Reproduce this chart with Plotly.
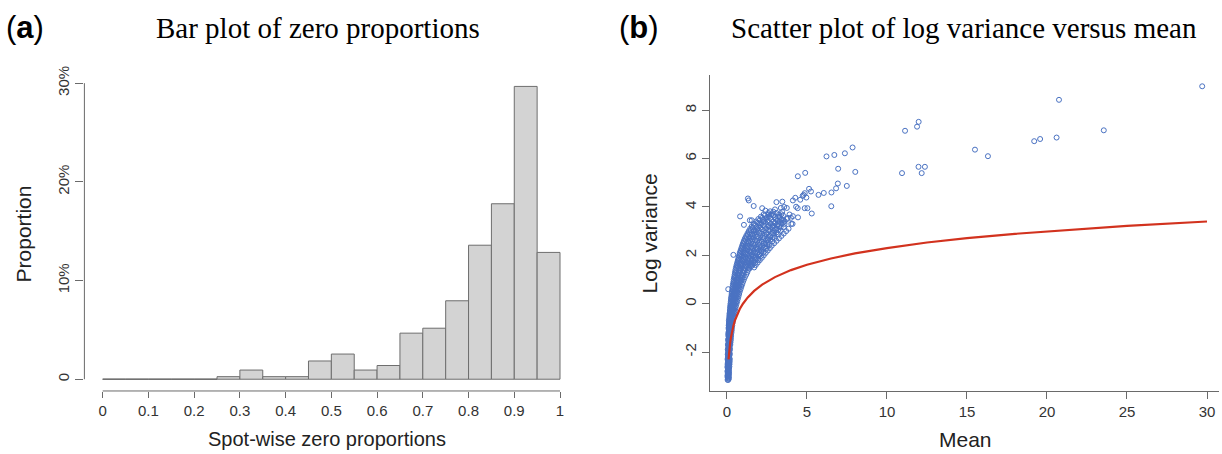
import plotly.graph_objects as go

# ---------------- data: panel (a) ----------------
bin_edges = [0.00, 0.05, 0.10, 0.15, 0.20, 0.25, 0.30, 0.35, 0.40, 0.45, 0.50,
             0.55, 0.60, 0.65, 0.70, 0.75, 0.80, 0.85, 0.90, 0.95, 1.00]
bar_pct = [0, 0, 0, 0, 0, 0.26, 0.93, 0.26, 0.26, 1.85, 2.55, 0.93, 1.39,
           4.67, 5.17, 7.95, 13.58, 17.78, 29.67, 12.85]
a_xticks = [0, 0.1, 0.2, 0.3, 0.4, 0.5, 0.6, 0.7, 0.8, 0.9, 1]
a_xticklabels = ["0", "0.1", "0.2", "0.3", "0.4", "0.5", "0.6", "0.7", "0.8", "0.9", "1"]
a_yticks = [0, 10, 20, 30]
a_yticklabels = ["0", "10%", "20%", "30%"]

# ---------------- data: panel (b) ----------------
# dense cloud, read row by row (log variance level -> means seen at that level)
band_logvar = [-3.15, -3.05, -2.95, -2.85, -2.75, -2.65, -2.55, -2.45, -2.35, -2.25,
               -2.15, -2.05, -1.95, -1.85, -1.75, -1.65, -1.55, -1.45, -1.35, -1.25,
               -1.15, -1.05, -0.95, -0.85, -0.75, -0.65, -0.55, -0.45, -0.35, -0.25,
               -0.15, -0.05, 0.05, 0.15, 0.25, 0.35, 0.45, 0.55, 0.65, 0.75,
               0.85, 0.95, 1.05, 1.15, 1.25, 1.35, 1.45, 1.55, 1.65, 1.75,
               1.85, 1.95, 2.05, 2.15, 2.25, 2.35, 2.45, 2.55, 2.65, 2.75,
               2.85, 2.95, 3.05, 3.15, 3.25, 3.35, 3.45, 3.55, 3.65, 3.75]
band_means = [
    [0.04, 0.08], [0.05, 0.10], [0.04, 0.09], [0.06, 0.11], [0.05, 0.10],
    [0.04, 0.09, 0.13], [0.06, 0.11], [0.05, 0.10, 0.14], [0.06, 0.12], [0.05, 0.10, 0.15],
    [0.07, 0.12], [0.06, 0.11, 0.16], [0.08, 0.13], [0.07, 0.12, 0.17], [0.09, 0.14],
    [0.08, 0.13, 0.19], [0.10, 0.16], [0.09, 0.14, 0.20], [0.11, 0.17, 0.22], [0.10, 0.15, 0.21],
    [0.12, 0.18, 0.24], [0.11, 0.17, 0.23], [0.13, 0.19, 0.26], [0.12, 0.20, 0.28], [0.14, 0.22, 0.30],
    [0.15, 0.24, 0.32], [0.17, 0.26, 0.35], [0.18, 0.28, 0.38], [0.20, 0.30, 0.41], [0.21, 0.32, 0.44],
    [0.23, 0.35, 0.47], [0.25, 0.37, 0.50], [0.26, 0.40, 0.53], [0.28, 0.42, 0.56], [0.30, 0.45, 0.60],
    [0.32, 0.48, 0.63], [0.34, 0.50, 0.67], [0.36, 0.53, 0.71], [0.38, 0.56, 0.75], [0.41, 0.60, 0.80],
    [0.43, 0.63, 0.84], [0.46, 0.66, 0.89], [0.48, 0.70, 0.94], [0.51, 0.74, 0.99], [0.54, 0.78, 1.04],
    [0.57, 0.82, 1.10], [0.60, 0.86, 1.16, 1.40], [0.63, 0.90, 1.20, 1.50], [0.66, 0.95, 1.28, 1.62],
    [0.70, 1.00, 1.34, 1.70],
    [0.74, 1.05, 1.42, 1.85], [0.78, 1.12, 1.50, 1.95], [0.82, 1.18, 1.58, 2.05], [0.87, 1.24, 1.66, 2.15],
    [0.92, 1.30, 1.75, 2.25], [0.97, 1.36, 1.84, 2.40], [1.02, 1.43, 1.93, 2.50], [1.08, 1.50, 2.02, 2.60],
    [1.15, 1.58, 2.12, 2.70], [1.22, 1.66, 2.22, 2.85],
    [1.30, 1.75, 2.33, 2.95], [1.40, 1.85, 2.45, 3.10], [1.50, 1.97, 2.57, 3.20], [1.62, 2.10, 2.70, 3.35],
    [1.75, 2.25, 2.85], [1.90, 2.40, 3.00, 3.50], [2.05, 2.55, 3.15], [2.20, 2.72, 3.30],
    [2.38, 2.90, 3.50], [2.58, 3.10],
]
band2_logvar = [-3.10, -3.00, -2.90, -2.80, -2.70, -2.60, -2.50, -2.40, -2.30, -2.20,
                -2.10, -2.00, -1.90, -1.80, -1.70, -1.60, -1.50, -1.40, -1.30, -1.20,
                -1.10, -1.00, -0.90, -0.80, -0.70, -0.60, -0.50, -0.40, -0.30, -0.20,
                -0.10, 0.00, 0.10, 0.20, 0.30, 0.40, 0.50, 0.60, 0.70, 0.80,
                0.90, 1.00, 1.10, 1.20, 1.30, 1.40, 1.50, 1.60, 1.70, 1.80,
                1.90, 2.00, 2.10, 2.20, 2.30, 2.40, 2.50, 2.60, 2.70, 2.80,
                2.90, 3.00, 3.10, 3.20, 3.30, 3.40, 3.50, 3.60, 3.70]
band2_means = [
    [0.06, 0.12], [0.03, 0.07, 0.12], [0.05, 0.13], [0.03, 0.08, 0.13], [0.07, 0.12],
    [0.03, 0.08, 0.15], [0.04, 0.12, 0.16], [0.08, 0.17], [0.04, 0.09, 0.18], [0.07, 0.14],
    [0.05, 0.09, 0.18], [0.10, 0.15], [0.05, 0.10, 0.19], [0.11, 0.16], [0.06, 0.11, 0.21],
    [0.12, 0.17, 0.22], [0.07, 0.12, 0.24], [0.13, 0.19, 0.25], [0.08, 0.14, 0.26], [0.09, 0.15, 0.20, 0.28],
    [0.14, 0.21, 0.30], [0.10, 0.16, 0.22, 0.31], [0.11, 0.17, 0.24, 0.33], [0.13, 0.18, 0.26, 0.35],
    [0.12, 0.19, 0.27, 0.37], [0.14, 0.21, 0.29, 0.40], [0.15, 0.23, 0.31, 0.43], [0.16, 0.24, 0.34, 0.46],
    [0.18, 0.26, 0.37, 0.49], [0.19, 0.28, 0.40, 0.52], [0.20, 0.30, 0.43, 0.56], [0.22, 0.33, 0.46, 0.60],
    [0.24, 0.35, 0.49, 0.64], [0.25, 0.38, 0.52, 0.68], [0.27, 0.40, 0.55, 0.72], [0.29, 0.43, 0.59, 0.76],
    [0.31, 0.46, 0.62, 0.80], [0.33, 0.48, 0.66, 0.85], [0.35, 0.51, 0.70, 0.90], [0.37, 0.55, 0.74, 0.95],
    [0.40, 0.58, 0.78, 1.00], [0.42, 0.61, 0.82, 1.06], [0.45, 0.65, 0.87, 1.12], [0.48, 0.69, 0.92, 1.20],
    [0.50, 0.72, 0.97, 1.27], [0.53, 0.76, 1.02, 1.32], [0.56, 0.80, 1.08, 1.36, 1.70],
    [0.60, 0.85, 1.14, 1.45, 1.80], [0.64, 0.90, 1.20, 1.52, 1.92], [0.68, 0.95, 1.26, 1.62, 2.05],
    [0.72, 1.00, 1.33, 1.72, 2.18], [0.76, 1.06, 1.40, 1.80, 2.30], [0.80, 1.12, 1.48, 1.90, 2.42],
    [0.85, 1.18, 1.56, 2.00, 2.55], [0.90, 1.24, 1.64, 2.10, 2.68], [0.95, 1.30, 1.72, 2.20, 2.80],
    [1.00, 1.36, 1.80, 2.32, 2.95], [1.06, 1.44, 1.90, 2.44, 3.10], [1.12, 1.52, 2.00, 2.56, 3.25],
    [1.20, 1.60, 2.10, 2.68, 3.40], [1.28, 1.70, 2.20, 2.80, 3.55], [1.36, 1.80, 2.32, 2.95, 3.70],
    [1.45, 1.90, 2.45, 3.10, 3.85], [1.55, 2.02, 2.60, 3.25], [1.68, 2.15, 2.75, 3.42, 4.10],
    [1.82, 2.30, 2.90, 3.60], [1.96, 2.45, 3.05, 3.75], [2.12, 2.62, 3.20], [2.30, 2.80, 3.40],
]
band3_logvar = [1.53, 1.58, 1.68, 1.73, 1.82, 1.88, 1.97, 2.03, 2.12, 2.18,
                2.27, 2.33, 2.42, 2.48, 2.57, 2.63, 2.72, 2.78, 2.87, 2.93,
                3.02, 3.08, 3.17, 3.23, 3.32, 3.38, 3.47, 3.58, 3.68, 3.80]
band3_means = [
    [0.71, 1.27], [0.98, 1.58], [0.77, 1.41, 1.75], [1.09], [0.85, 1.52, 1.95],
    [1.16, 1.78], [0.93, 1.62, 2.12], [1.28, 2.00], [1.02, 1.75, 2.28], [1.40, 2.12],
    [1.10, 1.88, 2.45], [1.52, 2.30], [1.18, 2.02, 2.62], [1.62, 2.40], [1.30, 2.18, 2.82],
    [1.75, 2.55], [1.41, 2.32, 3.00], [1.88, 2.70], [1.55, 2.48, 3.20], [2.02, 2.88],
    [1.68, 2.65, 3.35], [2.18, 3.02], [1.85, 2.82, 3.55], [2.35, 3.15], [2.00, 2.98],
    [2.55, 3.30], [2.25, 3.40], [2.50, 3.00], [2.75, 3.25], [2.90, 3.45],
]
outlier_mean = [29.7, 20.75, 11.98, 11.88, 11.13, 23.55, 20.6, 19.57, 19.2, 15.5,
                16.31, 7.85, 7.37, 6.71, 6.22, 6.95, 8.02, 10.94, 11.97, 12.37,
                12.17, 4.89, 4.43, 6.93, 7.49, 6.82, 6.53, 6.05, 5.72, 6.52,
                5.13, 4.86, 4.73, 4.27, 3.46, 3.09, 3.58, 4.12, 4.32, 4.42,
                4.86, 5.03, 5.3, 4.44, 4.02, 1.31, 1.36, 1.67, 0.82, 1.06,
                1.43, 1.55, 0.4, 0.08, 3.74, 3.37, 3.91, 4.12, 2.7, 2.62,
                4.58, 4.96, 4.79, 5.25, 3.2, 3.5, 3.8, 2.9, 3.3, 2.4,
                2.2, 3.0, 3.6, 4.0]
outlier_logvar = [8.99, 8.43, 7.52, 7.32, 7.15, 7.17, 6.87, 6.81, 6.72, 6.37,
                  6.1, 6.46, 6.22, 6.15, 6.09, 5.58, 5.45, 5.4, 5.66, 5.66,
                  5.4, 5.41, 5.27, 4.97, 4.87, 4.77, 4.6, 4.58, 4.5, 4.03,
                  4.75, 4.57, 4.46, 4.38, 4.22, 4.2, 4.0, 4.27, 4.01, 3.95,
                  3.95, 3.95, 3.73, 3.57, 3.3, 4.35, 4.27, 4.04, 3.61, 3.26,
                  3.45, 3.45, 2.02, 0.6, 3.96, 3.96, 3.69, 3.62, 3.82, 3.69,
                  4.3, 4.39, 4.5, 4.64, 3.3, 3.45, 3.55, 3.2, 3.6, 3.85,
                  3.95, 3.9, 3.3, 3.55]
ref_mean = [0.1, 0.12, 0.15, 0.2, 0.25, 0.3, 0.4, 0.5, 0.6, 0.8, 1.0, 1.3, 1.7, 2.2,
            3.0, 4.0, 5.0, 6.5, 8.0, 10.0, 12.5, 15.0, 18.0, 21.0, 25.0, 30.0]
ref_logvar = [-2.3, -2.12, -1.9, -1.61, -1.39, -1.2, -0.92, -0.69, -0.51, -0.22, 0.0, 0.26,
              0.53, 0.79, 1.1, 1.39, 1.61, 1.87, 2.08, 2.3, 2.53, 2.71, 2.89, 3.04, 3.22, 3.4]
b_xticks = [0, 5, 10, 15, 20, 25, 30]
b_yticks = [-2, 0, 2, 4, 6, 8]
b_yticklabels = ["-2", "0", "2", "4", "6", "8"]

# ---------------- figure ----------------
W, H = 1222, 454
def fx(p):
    return p / W
def fy(p):
    return 1 - p / H

SANS = "Liberation Sans, Arial, sans-serif"
SERIF = "Liberation Serif, Times New Roman, serif"
BLUE = "#4A72C2"
RED = "#D2321E"
AXC = "#6a6a6a"

fig = go.Figure()

centers = [(bin_edges[i] + bin_edges[i + 1]) / 2 for i in range(len(bar_pct))]
widths = [bin_edges[i + 1] - bin_edges[i] for i in range(len(bar_pct))]
fig.add_trace(go.Bar(x=centers, y=bar_pct, width=widths,
                     marker=dict(color="#D3D3D3", line=dict(color="#6E6E6E", width=1)),
                     xaxis="x", yaxis="y", showlegend=False, hoverinfo="x+y"))
# outline of empty (zero-height) bins
zx, zy = [], []
for i, v in enumerate(bar_pct):
    if v == 0:
        zx += [bin_edges[i], bin_edges[i + 1], None]
        zy += [0, 0, None]
fig.add_trace(go.Scatter(x=zx, y=zy, mode="lines", line=dict(color="#6E6E6E", width=1),
                         xaxis="x", yaxis="y", showlegend=False, hoverinfo="skip"))

cloud_x, cloud_y = [], []
for levels, rows in ((band_logvar, band_means), (band2_logvar, band2_means),
                     (band3_logvar, band3_means)):
    for yv, row in zip(levels, rows):
        for xv in row:
            cloud_x.append(xv)
            cloud_y.append(yv)
cloud_x += outlier_mean
cloud_y += outlier_logvar
fig.add_trace(go.Scatter(x=cloud_x, y=cloud_y, mode="markers",
                         marker=dict(symbol="circle-open", size=5, color=BLUE, line=dict(width=1, color=BLUE)),
                         xaxis="x2", yaxis="y2", showlegend=False))
fig.add_trace(go.Scatter(x=ref_mean, y=ref_logvar, mode="lines", line=dict(color=RED, width=2.2),
                         xaxis="x2", yaxis="y2", showlegend=False))

tickfont = dict(family=SANS, size=15, color="#333333")
fig.update_layout(
    width=W, height=H, margin=dict(l=0, r=0, t=0, b=0),
    paper_bgcolor="white", plot_bgcolor="white",
    xaxis=dict(domain=[fx(84.4), fx(578.3)], range=[-0.04, 1.04], anchor="y",
               tickvals=a_xticks, ticktext=a_xticklabels, ticks="outside", ticklen=6,
               tickcolor=AXC, tickfont=tickfont, showline=False, showgrid=False, zeroline=False),
    yaxis=dict(domain=[fy(389.7), fy(67)], range=[-1.19, 30.86], anchor="x",
               tickvals=a_yticks, ticktext=a_yticklabels, tickangle=-90, ticks="outside", ticklen=8,
               tickcolor=AXC, tickfont=tickfont, showline=False, showgrid=False, zeroline=False),
    xaxis2=dict(domain=[fx(710), fx(1219)], range=[-1.06, 30.75], anchor="y2",
                tickvals=b_xticks, ticks="outside", ticklen=7, tickcolor=AXC, tickfont=tickfont,
                showline=True, linecolor=AXC, linewidth=1, showgrid=False, zeroline=False),
    yaxis2=dict(domain=[fy(390), fy(67)], range=[-3.62, 9.47], anchor="x2",
                tickvals=b_yticks, ticktext=b_yticklabels, tickangle=-90, ticks="outside", ticklen=7,
                tickcolor=AXC, tickfont=tickfont,
                showline=True, linecolor=AXC, linewidth=1, showgrid=False, zeroline=False),
)

# R-style axis lines spanning first to last tick in panel (a)
fig.add_shape(type="line", xref="x", yref="paper", x0=a_xticks[0], x1=a_xticks[-1],
              y0=fy(389.7), y1=fy(389.7), line=dict(color=AXC, width=1))
fig.add_shape(type="line", xref="paper", yref="y", x0=fx(84.4), x1=fx(84.4),
              y0=a_yticks[0], y1=a_yticks[-1], line=dict(color=AXC, width=1))

ann = [
    dict(text="(<b>a</b>)", x=fx(25), y=fy(19), font=dict(family=SANS, size=31, color="black")),
    dict(text="(<b>b</b>)", x=fx(639), y=fy(19), font=dict(family=SANS, size=31, color="black")),
    dict(text="Bar plot of zero proportions", x=fx(318), y=fy(19),
         font=dict(family=SERIF, size=29, color="black")),
    dict(text="Scatter plot of log variance versus mean", x=fx(964), y=fy(19),
         font=dict(family=SERIF, size=29, color="black")),
    dict(text="Spot-wise zero proportions", x=fx(327), y=fy(439),
         font=dict(family=SANS, size=20, color="#222222")),
    dict(text="Mean", x=fx(965), y=fy(439), font=dict(family=SANS, size=21, color="#222222")),
    dict(text="Proportion", x=fx(23), y=fy(230), textangle=-90,
         font=dict(family=SANS, size=21, color="#222222")),
    dict(text="Log variance", x=fx(649), y=fy(229), textangle=-90,
         font=dict(family=SANS, size=21, color="#222222")),
]
for a in ann:
    fig.add_annotation(xref="paper", yref="paper", showarrow=False,
                       xanchor="center", yanchor="middle", **a)

fig.write_html("out.html")
